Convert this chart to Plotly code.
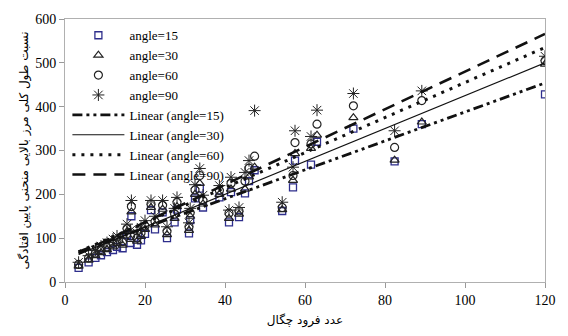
import plotly.graph_objects as go

# Data
x_vals = [3.4, 5.9, 7.6, 9.0, 10.5, 12.0, 13.0, 14.4, 15.5, 16.4, 16.6, 18.0, 19.0, 20.0,
          21.5, 22.5, 24.4, 25.5, 27.4, 28.0, 31.0, 31.3, 32.5, 33.7, 34.5, 38.6, 41.0,
          41.5, 43.5, 45.0, 46.0, 47.4, 54.3, 57.0, 57.5, 61.5, 63.0, 72.1, 82.4, 89.2, 120.0]
angle15 = [32, 45, 55, 61, 68, 73, 80, 77, 107, 89, 150, 85, 95, 110,
           164, 120, 159, 100, 136, 165, 111, 141, 191, 213, 170, 193, 136,
           205, 148, 202, 230, 255, 162, 216, 277, 268, 320, 350, 275, 360, 428]
angle30 = [36, 50, 60, 67, 74, 80, 88, 84, 115, 97, 160, 93, 104, 120,
           170, 130, 166, 108, 145, 172, 118, 150, 200, 225, 178, 200, 145,
           212, 155, 212, 240, 262, 165, 232, 293, 305, 335, 375, 278, 365, 497]
angle60 = [40, 55, 66, 74, 80, 88, 95, 92, 122, 105, 172, 100, 112, 128,
           178, 138, 175, 116, 155, 182, 126, 158, 210, 243, 186, 209, 157,
           225, 162, 230, 260, 287, 170, 243, 318, 315, 360, 402, 307, 414, 505]
angle90 = [45, 60, 72, 82, 90, 98, 105, 102, 132, 118, 186, 112, 125, 140,
           186, 150, 186, 126, 168, 193, 135, 168, 222, 259, 198, 220, 164,
           239, 170, 250, 277, 391, 182, 262, 345, 332, 392, 430, 345, 436, 515]

# Trendline end points
trend_x = [3.4, 120.0]
trend15 = [69, 454]
trend30 = [63, 500]
trend60 = [69, 535]
trend90 = [65, 566]

x_ticks = [0, 20, 40, 60, 80, 100, 120]
y_ticks = [0, 100, 200, 300, 400, 500, 600]

x_title = "عدد فرود چگال"
y_title = "نسبت طول کلی مرز بالایی منحنی پایین افتادگی"

serif = "Liberation Serif, Times New Roman, serif"

fig = go.Figure()

marker_specs = [
    ("angle=15", angle15, "square-open", "#2e2e8c", 7, 1.3),
    ("angle=30", angle30, "triangle-up-open", "#222222", 8, 1.2),
    ("angle=60", angle60, "circle-open", "#222222", 8, 1.2),
    ("angle=90", angle90, "asterisk-open", "#222222", 10, 1.0),
]
for name, ys, sym, col, size, lw in marker_specs:
    fig.add_trace(go.Scatter(
        x=x_vals, y=ys, mode="markers", name=name,
        marker=dict(symbol=sym, size=size, color=col, line=dict(color=col, width=lw)),
    ))

line_specs = [
    ("Linear (angle=15)", trend15, "10px,4px,3px,4px,3px,4px", 2.8),
    ("Linear (angle=30)", trend30, "solid", 1.2),
    ("Linear (angle=60)", trend60, "3px,6px", 3.0),
    ("Linear (angle=90)", trend90, "13px,8px", 2.6),
]
for name, ys, dash, w in line_specs:
    fig.add_trace(go.Scatter(
        x=trend_x, y=ys, mode="lines", name=name,
        line=dict(color="#111111", dash=dash, width=w),
    ))

fig.update_layout(
    width=568, height=336,
    margin=dict(l=65, r=12, t=19, b=54),
    plot_bgcolor="white", paper_bgcolor="white",
    font=dict(family=serif, size=14, color="black"),
    showlegend=True,
    legend=dict(
        x=0.005, y=0.995, xanchor="left", yanchor="top",
        bgcolor="rgba(255,255,255,0)",
        font=dict(family=serif, size=13, color="black"),
        tracegroupgap=0, itemwidth=52,
    ),
)
fig.update_xaxes(
    range=[0, 120], tickvals=x_ticks, ticks="outside", ticklen=5,
    tickcolor="#999999", linecolor="#b0b0b0", linewidth=1, mirror=True,
    showgrid=False, zeroline=False,
    tickfont=dict(family=serif, size=14, color="black"),
    title=dict(text=x_title, font=dict(family="DejaVu Sans", size=12, color="black"), standoff=8),
)
fig.update_yaxes(
    range=[0, 600], tickvals=y_ticks, ticks="outside", ticklen=5,
    tickcolor="#999999", linecolor="#b0b0b0", linewidth=1, mirror=True,
    showgrid=False, zeroline=False,
    tickfont=dict(family=serif, size=14, color="black"),
    title=dict(text=y_title, font=dict(family="DejaVu Sans", size=12, color="black"), standoff=4),
)

fig.write_html("out.html")
